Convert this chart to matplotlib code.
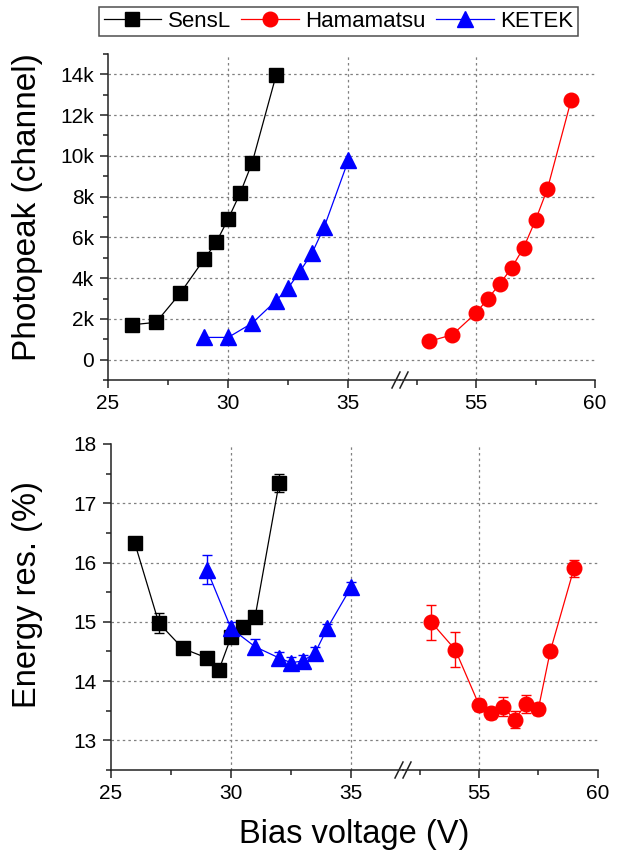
import matplotlib
matplotlib.use("Agg")
import matplotlib.pyplot as plt
from matplotlib.lines import Line2D
from matplotlib.ticker import MultipleLocator, FuncFormatter, FixedLocator

plt.rcParams["font.family"] = ["Liberation Sans", "DejaVu Sans"]

W, H = 623, 852

# SiPM bias scans
sensl_v = [26, 27, 28, 29, 29.5, 30, 30.5, 31, 32]
sensl_peak = [1710, 1830, 3250, 4930, 5750, 6900, 8170, 9670, 13980]
sensl_res = [16.33, 14.98, 14.55, 14.39, 14.19, 14.74, 14.91, 15.08, 17.34]
sensl_err = [0.05, 0.17, 0.05, 0.10, 0.05, 0.06, 0.05, 0.06, 0.15]

ketek_v = [29, 30, 31, 32, 32.5, 33, 33.5, 34, 35]
ketek_peak = [1090, 1090, 1790, 2900, 3520, 4350, 5250, 6520, 9780]
ketek_res = [15.88, 14.89, 14.58, 14.39, 14.31, 14.34, 14.48, 14.89, 15.59]
ketek_err = [0.24, 0.10, 0.13, 0.10, 0.10, 0.10, 0.10, 0.08, 0.08]

hama_v = [53, 54, 55, 55.5, 56, 56.5, 57, 57.5, 58, 59]
hama_peak = [890, 1220, 2290, 3000, 3720, 4510, 5500, 6850, 8380, 12750]
hama_res = [14.99, 14.53, 13.60, 13.46, 13.57, 13.35, 13.62, 13.53, 14.50, 15.90]
hama_err = [0.30, 0.29, 0.10, 0.10, 0.16, 0.14, 0.15, 0.10, 0.08, 0.14]

LEFT_RANGE = (25, 37.15)
RIGHT_RANGE = (51.8, 60)
GRID_KW = dict(color="#808080", lw=0.9, ls=(0, (2, 2.5)), zorder=0)
TICK_FS = 15
LABEL_FS = 24

STYLES = {
    "SensL": dict(color="black", marker="s", ms=9.5),
    "Hamamatsu": dict(color="red", marker="o", ms=10.5),
    "KETEK": dict(color="blue", marker="^", ms=11),
}


def px_axes(fig, left, right, top, bottom):
    return fig.add_axes([left / W, 1 - bottom / H, (right - left) / W, (bottom - top) / H])


def style_axis(ax, is_left, major, minor):
    for s in ("top", "right"):
        ax.spines[s].set_visible(False)
    if not is_left:
        ax.spines["left"].set_visible(False)
        ax.tick_params(axis="y", which="both", left=False, labelleft=False)
    for s in ("left", "bottom"):
        ax.spines[s].set_linewidth(1.1)
        ax.spines[s].set_color("#222222")
    ax.xaxis.set_major_locator(FixedLocator(major))
    ax.xaxis.set_minor_locator(FixedLocator(minor))
    ax.tick_params(which="major", direction="out", length=6, width=1.1,
                   labelsize=TICK_FS, pad=4, color="#222222")
    ax.tick_params(which="minor", direction="out", length=3.5, width=1.1,
                   color="#222222")
    for v in major:
        if ax.get_xlim()[0] < v < ax.get_xlim()[1]:
            ax.axvline(v, **GRID_KW)


def hgrid(ax, vals):
    for v in vals:
        ax.axhline(v, **GRID_KW)


def break_marks(fig, xb, yb):
    for dx in (-4, 4):
        fig.add_artist(Line2D([(xb + dx - 4) / W, (xb + dx + 4) / W],
                              [1 - (yb + 8) / H, 1 - (yb - 8) / H],
                              transform=fig.transFigure, color="#222222", lw=1.1))


def plot_series(ax, name, x, y, err=None):
    st = STYLES[name]
    if err is None:
        ax.plot(x, y, color=st["color"], lw=0.9, marker=st["marker"],
                ms=st["ms"], mec=st["color"], mfc=st["color"], label=name, zorder=3)
    else:
        ax.errorbar(x, y, yerr=err, color=st["color"], lw=0.9, marker=st["marker"],
                    ms=st["ms"], mec=st["color"], mfc=st["color"], elinewidth=1,
                    capsize=3.5, capthick=1, label=name, zorder=3)


def make_panel(fig, box, xbreak, ylim, ymaj, ymin_, ygrid, fmt=None):
    left, right, top, bottom = box
    axl = px_axes(fig, left, xbreak, top, bottom)
    axr = px_axes(fig, xbreak, right, top, bottom)
    for ax, rng in ((axl, LEFT_RANGE), (axr, RIGHT_RANGE)):
        ax.set_xlim(*rng)
        ax.set_ylim(*ylim)
        ax.patch.set_alpha(0)
    style_axis(axl, True, [25, 30, 35], [27.5, 32.5])
    style_axis(axr, False, [55, 60], [52.5, 57.5])
    axl.yaxis.set_major_locator(MultipleLocator(ymaj))
    axl.yaxis.set_minor_locator(MultipleLocator(ymin_))
    if fmt is not None:
        axl.yaxis.set_major_formatter(fmt)
    hgrid(axl, ygrid)
    hgrid(axr, ygrid)
    break_marks(fig, xbreak, bottom)
    return axl, axr


fig = plt.figure(figsize=(W / 100, H / 100), dpi=100)

kfmt = FuncFormatter(lambda v, _: "0" if v == 0 else f"{v / 1000:.0f}k")
t_l, t_r = make_panel(fig, (108, 595, 54, 380), 400, (-1000, 15000), 2000, 1000,
                      range(0, 14001, 2000), kfmt)
plot_series(t_l, "SensL", sensl_v, sensl_peak)
plot_series(t_r, "Hamamatsu", hama_v, hama_peak)
plot_series(t_l, "KETEK", ketek_v, ketek_peak)
t_l.set_ylabel("Photopeak (channel)", fontsize=LABEL_FS)
t_l.yaxis.set_label_coords(-0.222, 0.53)

b_l, b_r = make_panel(fig, (110.7, 597.7, 444, 770), 403, (12.5, 18), 1, 0.5,
                      [13, 14, 15, 16, 17])
plot_series(b_l, "SensL", sensl_v, sensl_res, sensl_err)
plot_series(b_r, "Hamamatsu", hama_v, hama_res, hama_err)
plot_series(b_l, "KETEK", ketek_v, ketek_res, ketek_err)
b_l.set_ylabel("Energy res. (%)", fontsize=LABEL_FS - 0.5)
b_l.yaxis.set_label_coords(-0.232, 0.537)

fig.text(354 / W, 1 - 843 / H, "Bias voltage (V)", fontsize=LABEL_FS - 0.5,
         ha="center", va="baseline")

handles = [Line2D([], [], color=STYLES[n]["color"], lw=0.9, marker=STYLES[n]["marker"],
                  ms=STYLES[n]["ms"], label=n)
           for n in ("SensL", "Hamamatsu", "KETEK")]
leg = fig.legend(handles=handles, loc="center", ncol=3, frameon=True, fancybox=False,
                 bbox_to_anchor=(338.5 / W, 1 - 21.5 / H), fontsize=16,
                 handlelength=2.6, handletextpad=0.3, columnspacing=0.45,
                 borderpad=0.2, borderaxespad=0, edgecolor="#222222")
leg.get_frame().set_linewidth(1.1)

fig.savefig("out.png", dpi=100)
